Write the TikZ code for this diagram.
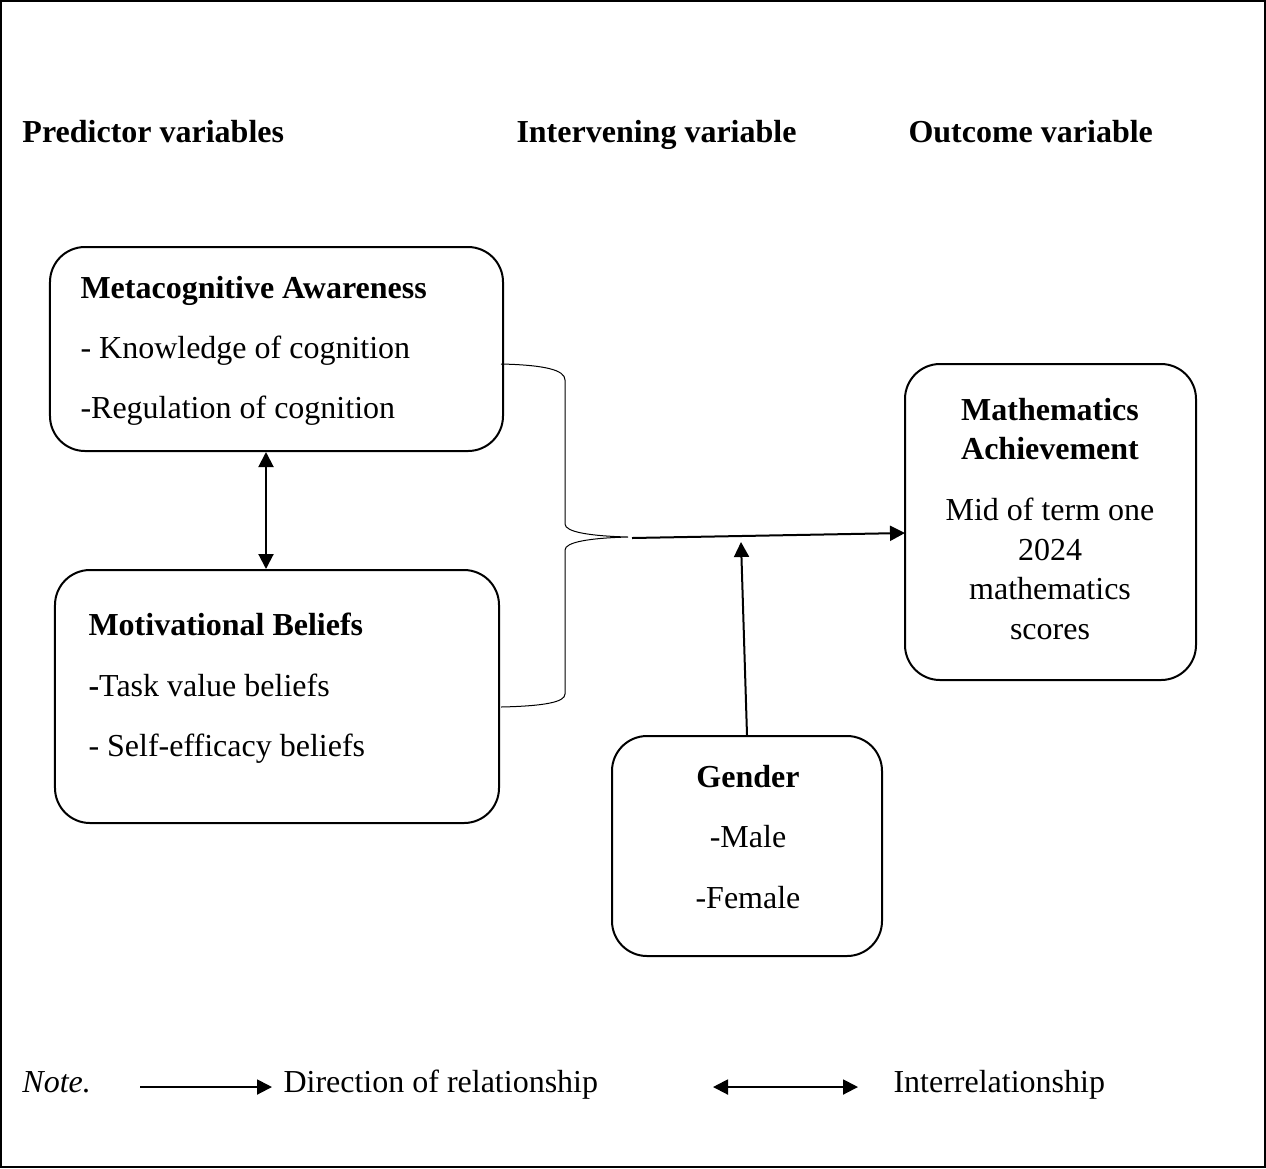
\documentclass[tikz,border=0pt]{standalone}
\usepackage{fontspec}
\setmainfont{Liberation Serif}
\usepackage{tikz}
\usetikzlibrary{positioning, arrows.meta}

\begin{document}
\begin{tikzpicture}[x=0.4pt, y=-0.4pt, >={Triangle[length=6pt, width=6pt]},
    font=\fontsize{12.8}{15}\selectfont,
    box/.style={draw, line width=0.8pt, rounded corners=14pt, inner sep=0pt},
    lbl/.style={anchor=base west, inner sep=0pt},
    ctr/.style={anchor=base, inner sep=0pt},
    hd/.style={lbl, font=\fontsize{12.8}{15}\selectfont\bfseries},
    rel/.style={->, line width=0.8pt},
    brace/.style={line width=0.4pt}]

    \useasboundingbox (0,0) rectangle (1266,1168);
    \draw[line width=0.8pt] (1,1) rectangle (1265,1167);

    % Titulos de columnas
    \node[hd] (hpred) at (22,142) {Predictor variables};
    \node[hd] (hint) at (516,142) {Intervening variable};
    \node[hd] (hout) at (908,142) {Outcome variable};

    % Cajas
    \node[box, minimum width=181.2pt, minimum height=81.6pt] (meta) at (276.5,349) {};
    \node[box, minimum width=177.6pt, minimum height=101.2pt] (motiv) at (277,696.5) {};
    \node[box, minimum width=116.4pt, minimum height=126.4pt] (math) at (1050.5,522) {};
    \node[box, minimum width=108pt, minimum height=88pt] (gender) at (747,846) {};

    % Textos de Metacognitive Awareness
    \node[hd] (meta1) at (80,298) {Metacognitive Awareness};
    \node[lbl] (meta2) at (80,358) {- Knowledge of cognition};
    \node[lbl] (meta3) at (80,418) {-Regulation of cognition};

    % Textos de Motivational Beliefs
    \node[hd] (motiv1) at (88,635) {Motivational Beliefs};
    \node[lbl] (motiv2) at (88,696) {\textbf{-}Task value beliefs};
    \node[lbl] (motiv3) at (88,756) {- Self-efficacy beliefs};

    % Textos de Mathematics Achievement
    \node[ctr, font=\fontsize{12.8}{15}\selectfont\bfseries] (math1) at (1050,420) {Mathematics};
    \node[ctr, font=\fontsize{12.8}{15}\selectfont\bfseries] (math2) at (1050,459) {Achievement};
    \node[ctr] (math3) at (1050,520) {Mid of term one};
    \node[ctr] (math4) at (1050,560) {2024};
    \node[ctr] (math5) at (1050,599) {mathematics};
    \node[ctr] (math6) at (1050,639) {scores};

    % Textos de Gender
    \node[ctr, font=\fontsize{12.8}{15}\selectfont\bfseries] (gen1) at (748,787) {Gender};
    \node[ctr] (gen2) at (748,847) {-Male};
    \node[ctr] (gen3) at (748,908) {-Female};

    % Llave
    \coordinate (bt) at (501,364);
    \coordinate (bb) at (501,707);
    \coordinate (btip) at (628,537);
    \draw[brace] (bt) .. controls (545,365) and (565,370) .. (565,380)
        -- (565,524) .. controls (565,532) and (590,536) .. (btip)
        .. controls (590,538) and (565,542) .. (565,550)
        -- (565,694) .. controls (565,702) and (545,706) .. (bb);

    % Flechas
    \coordinate (astart) at (632,538);
    \coordinate (aend) at (905,533);
    \coordinate (gtip) at (741,542);
    \draw[rel] (astart) -- (aend);
    \draw[rel] (gender.north) -- (gtip);
    \draw[rel, <->] (meta.south -| 266,0) -- (motiv.north -| 266,0);

    % Nota
    \node[lbl, font=\fontsize{12.8}{15}\selectfont\itshape] (note) at (22,1092) {Note.};
    \coordinate (n1) at (140,1087);
    \coordinate (n2) at (272,1087);
    \draw[rel] (n1) -- (n2);
    \node[lbl] (ndir) at (283,1092) {Direction of relationship};
    \coordinate (n3) at (713,1087);
    \coordinate (n4) at (858,1087);
    \draw[rel, <->] (n3) -- (n4);
    \node[lbl] (nint) at (893,1092) {Interrelationship};
\end{tikzpicture}
\end{document}
